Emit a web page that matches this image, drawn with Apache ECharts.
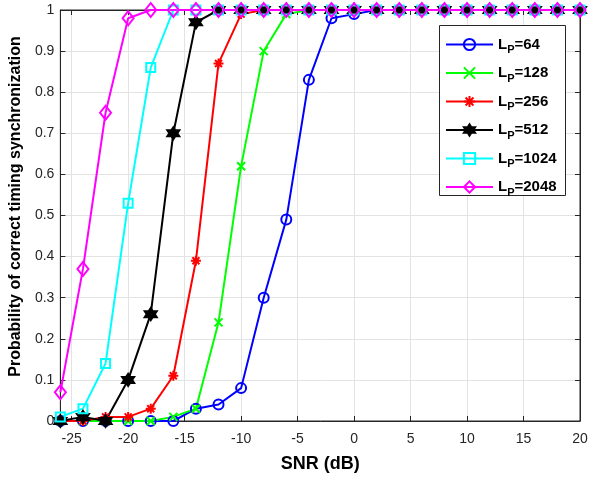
<!DOCTYPE html>
<html>
<head>
<meta charset="utf-8">
<script src="https://cdn.jsdelivr.net/npm/echarts@6/dist/echarts.min.js"></script>
<style>html,body{margin:0;padding:0;background:#fff}#c{width:591px;height:478px}</style>
</head>
<body>
<div id="c"></div>
<script>
const snr = [-26,-24,-22,-20,-18,-16,-14,-12,-10,-8,-6,-4,-2,0,2,4,6,8,10,12,14,16,18,20];
const p64   = [0,0,0,0,0,0,0.03,0.04,0.08,0.30,0.49,0.83,0.98,0.99,1,1,1,1,1,1,1,1,1,1];
const p128  = [0,0,0,0,0,0.01,0.03,0.24,0.62,0.90,0.99,1,1,1,1,1,1,1,1,1,1,1,1,1];
const p256  = [0,0,0.01,0.01,0.03,0.11,0.39,0.87,0.99,1,1,1,1,1,1,1,1,1,1,1,1,1,1,1];
const p512  = [0,0.01,0,0.10,0.26,0.70,0.97,1,1,1,1,1,1,1,1,1,1,1,1,1,1,1,1,1];
const p1024 = [0.01,0.03,0.14,0.53,0.86,1,1,1,1,1,1,1,1,1,1,1,1,1,1,1,1,1,1,1];
const p2048 = [0.07,0.37,0.75,0.98,1,1,1,1,1,1,1,1,1,1,1,1,1,1,1,1,1,1,1,1];
const seriesNames = ['64','128','256','512','1024','2048'];
const xTicks = [-25,-20,-15,-10,-5,0,5,10,15,20];
const xLabel = 'SNR (dB)';
const yLabel = 'Probability of correct timing synchronization';

const FONT = 'Liberation Sans, Arial, Helvetica, sans-serif';
const AX = '#262626';
const hexagram = 'path://M10,0L12.89,5L18.66,5L15.77,10L18.66,15L12.89,15L10,20L7.11,15L1.34,15L4.23,10L1.34,5L7.11,5Z';
const xmark = 'path://M0,0L10,10M10,0L0,10';
const asterisk = 'path://M5,0L5,10M0,5L10,5M1.5,1.5L8.5,8.5M8.5,1.5L1.5,8.5';
const styles = [
  {c:'#0000ff', s:'circle', z:[10,10], f:'rgba(255,255,255,0)'},
  {c:'#00ff00', s:xmark, z:[8,8], f:'rgba(255,255,255,0)'},
  {c:'#ff0000', s:asterisk, z:[10,10], f:'rgba(255,255,255,0)'},
  {c:'#000000', s:hexagram, z:[12,12], f:'#000000'},
  {c:'#00ffff', s:'rect', z:[9,9], f:'rgba(255,255,255,0)'},
  {c:'#ff00ff', s:'diamond', z:[11,14], f:'rgba(255,255,255,0)'}
];
const vals = [p64,p128,p256,p512,p1024,p2048];

const series = vals.map((v,i)=>({
  name: 'L_P=' + seriesNames[i],
  type: 'line',
  data: snr.map((x,j)=>[x, v[j]]),
  symbol: styles[i].s,
  symbolSize: styles[i].z,
  showAllSymbol: true,
  color: styles[i].c,
  lineStyle: {color: styles[i].c, width: 2},
  itemStyle: {color: styles[i].f, borderColor: styles[i].c, borderWidth: 2},
  emphasis: {disabled: true},
  animation: false
}));

const chart = echarts.init(document.getElementById('c'));
chart.setOption({
  animation: false,
  grid: {left: 59, right: 11, top: 10, bottom: 56, show: true, borderColor: AX, borderWidth: 1},
  graphic: [{
    type: 'rect', z: 3, left: 439, top: 25,
    shape: {width: 126, height: 170},
    style: {fill: '#fff', stroke: AX, lineWidth: 1}
  }],
  xAxis: [{
    type: 'value', min: -26, max: 20,
    name: xLabel, nameLocation: 'middle', nameGap: 34,
    nameTextStyle: {fontFamily: FONT, fontSize: 18, fontWeight: 'bold', color: '#000'},
    axisLine: {show: true, onZero: false, lineStyle: {color: AX, width: 1}},
    axisTick: {show: true, inside: true, length: 5, customValues: xTicks, lineStyle: {color: AX}},
    axisLabel: {customValues: xTicks, fontFamily: FONT, fontSize: 14, color: AX, margin: 11},
    splitLine: {show: true, lineStyle: {color: '#e3e3e3', width: 1}}
  },{
    type: 'value', min: -26, max: 20, position: 'top',
    axisLine: {show: true, onZero: false, lineStyle: {color: AX}},
    axisTick: {show: true, inside: true, length: 5, customValues: xTicks, lineStyle: {color: AX}},
    axisLabel: {show: false}, splitLine: {show: false}
  }],
  yAxis: [{
    type: 'value', min: 0, max: 1, interval: 0.1,
    name: yLabel, nameLocation: 'middle', nameGap: 33,
    nameTextStyle: {fontFamily: FONT, fontSize: 16, fontWeight: 'bold', color: '#000', padding: [0,0,0,18]},
    axisLine: {show: true, onZero: false, lineStyle: {color: AX}},
    axisTick: {show: true, inside: true, length: 5, lineStyle: {color: AX}},
    axisLabel: {fontFamily: FONT, fontSize: 14, color: AX, margin: 6,
      formatter: v => (v === 0 ? '0' : v === 1 ? '1' : v.toFixed(1))},
    splitLine: {show: true, lineStyle: {color: '#e3e3e3', width: 1}}
  },{
    type: 'value', min: 0, max: 1, interval: 0.1, position: 'right',
    axisLine: {show: true, onZero: false, lineStyle: {color: AX}},
    axisTick: {show: true, inside: true, length: 5, lineStyle: {color: AX}},
    axisLabel: {show: false}, splitLine: {show: false}
  }],
  legend: {
    orient: 'vertical', left: 439, top: 25, width: 126, z: 4,
    padding: [12, 9, 0, 6],
    backgroundColor: 'transparent', borderWidth: 0,
    itemWidth: 47, itemHeight: 14, itemGap: 10,
    data: series.map(s=>s.name),
    formatter: name => '{l|L}{s|P}{l|' + name.slice(3) + '}',
    textStyle: {
      fontFamily: FONT, color: '#000',
      rich: {
        l: {fontFamily: FONT, fontSize: 15, fontWeight: 'bold', color: '#000', lineHeight: 16},
        s: {fontFamily: FONT, fontSize: 11, fontWeight: 'bold', color: '#000', verticalAlign: 'bottom', lineHeight: 16, padding: [0,0,-3,0]}
      }
    }
  },
  series: series
});
</script>
</body>
</html>
